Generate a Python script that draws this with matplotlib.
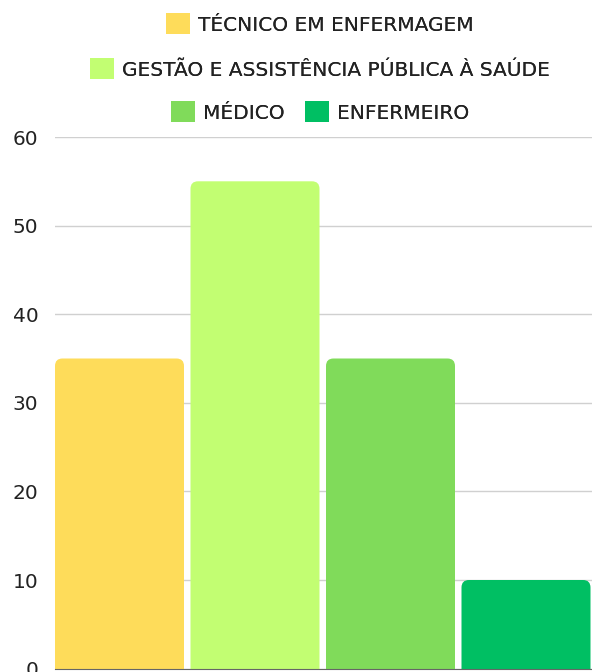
import matplotlib
matplotlib.use("Agg")
import matplotlib.pyplot as plt
from matplotlib.patches import FancyBboxPatch, Patch

plt.rcParams['font.family'] = ['DejaVu Sans']

categories = ["TÉCNICO EM ENFERMAGEM", "GESTÃO E ASSISTÊNCIA PÚBLICA À SAÚDE",
              "MÉDICO", "ENFERMEIRO"]
values = [35, 55, 35, 10]
colors = ["#FEDC5A", "#C2FE72", "#80DB5A", "#00BF63"]
yticks = [0, 10, 20, 30, 40, 50, 60]

W, H = 592, 672
fig = plt.figure(figsize=(W / 100, H / 100), dpi=100)
ax = fig.add_axes([55 / W, 3.4 / H, 537 / W, 531.6 / H])

x = list(range(len(categories)))
bw = 0.952
bars = ax.bar(x, values, width=bw, color=colors)
ax.set_xlim(-bw / 2, -bw / 2 + 537 / 135.5)
ax.set_ylim(0, 60)

# swap plain bars for ones with rounded tops
fig.canvas.draw()
px_x = ax.transData.transform((1, 0))[0] - ax.transData.transform((0, 0))[0]
px_y = ax.transData.transform((0, 1))[1] - ax.transData.transform((0, 0))[1]
aspect = px_x / px_y
r = 7.5 / px_x
for rect, c in zip(bars, colors):
    x0, w, h = rect.get_x(), rect.get_width(), rect.get_height()
    rect.set_visible(False)
    ax.add_patch(FancyBboxPatch((x0, -5), w, h + 5,
                                boxstyle=f"round,pad=0,rounding_size={r}",
                                mutation_aspect=aspect, facecolor=c,
                                edgecolor="none", zorder=2))

ax.set_yticks(yticks)
ax.set_xticks([])
ax.tick_params(axis="y", length=0, labelsize=14.5, colors="#222222", pad=12)
ax.grid(axis="y", color="#d0d0d0", linewidth=1)
ax.set_axisbelow(True)
for s in ["top", "right", "left"]:
    ax.spines[s].set_visible(False)
ax.spines["bottom"].set_color("#666666")
ax.spines["bottom"].set_zorder(3)

# legend: three centred rows above the plot
handles = [Patch(facecolor=c) for c in colors]
rows = [([0], 24), ([1], 69), ([2, 3], 112)]
cx = 320 / W
for idx, ypx in rows:
    leg = fig.legend([handles[i] for i in idx], [categories[i] for i in idx],
                     loc="center", bbox_to_anchor=(cx, 1 - ypx / H),
                     ncol=len(idx), frameon=False, fontsize=14.5,
                     handlelength=1.2, handleheight=1.2, handletextpad=0.4,
                     columnspacing=1.0, borderaxespad=0, borderpad=0)
    for t in leg.get_texts():
        t.set_color("#222222")
    fig.add_artist(leg)

fig.savefig("out.png", dpi=100)
